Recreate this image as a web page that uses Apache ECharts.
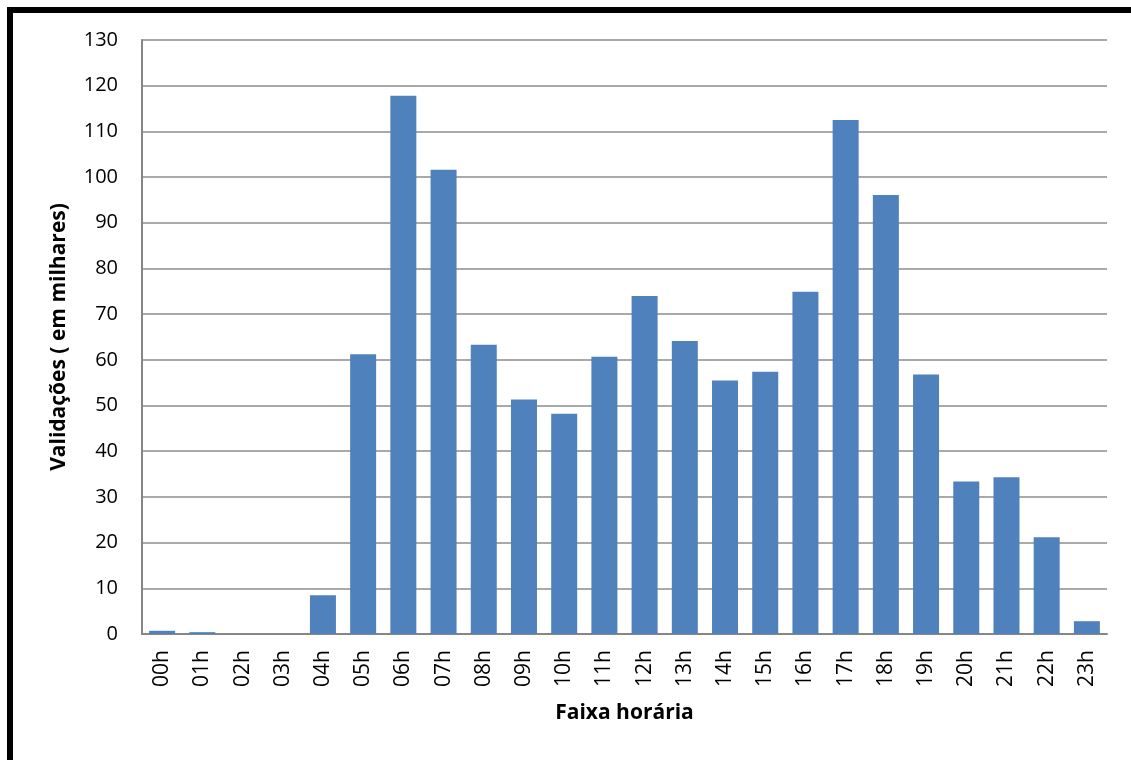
<!DOCTYPE html>
<html>
<head>
<meta charset="utf-8">
<script src="https://cdn.jsdelivr.net/npm/echarts@6/dist/echarts.min.js"></script>
<style>
  html, body { margin: 0; padding: 0; background: #ffffff; overflow: hidden; }
  #frame { position: absolute; left: 7px; top: 7px; width: 1200px; height: 800px;
           border-top: 6px solid #000; border-left: 6px solid #000; box-sizing: border-box; }
  #chart { position: absolute; left: 0; top: 0; width: 1131px; height: 760px; }
</style>
</head>
<body>
<div id="frame"></div>
<div id="chart"></div>
<script>
const categories = ['00h','01h','02h','03h','04h','05h','06h','07h','08h','09h','10h','11h',
                    '12h','13h','14h','15h','16h','17h','18h','19h','20h','21h','22h','23h'];
const validacoes = [0.7, 0.4, 0, 0, 8.5, 61.2, 117.8, 101.6, 63.3, 51.3, 48.2, 60.7,
                    74.0, 64.1, 55.5, 57.4, 74.9, 112.5, 96.1, 56.8, 33.4, 34.3, 21.2, 2.8];
const yAxisTitle = 'Validações ( em milhares)';
const xAxisTitle = 'Faixa horária';

const chart = echarts.init(document.getElementById('chart'), null, { renderer: 'canvas' });
const font = '"Open Sans", "Liberation Sans", sans-serif';
chart.setOption({
  animation: false,
  backgroundColor: 'transparent',
  textStyle: { fontFamily: font },
  grid: { left: 142, right: 24, top: 40, bottom: 126, containLabel: false },
  xAxis: {
    type: 'category',
    data: categories,
    name: xAxisTitle,
    nameLocation: 'middle',
    nameGap: 69,
    nameTextStyle: { fontSize: 21, fontWeight: 'bold', color: '#000', fontFamily: font },
    axisLine: { show: true, lineStyle: { color: '#868686', width: 2 } },
    axisTick: { show: false },
    axisLabel: { rotate: 90, margin: 16, fontSize: 21, color: '#000', fontFamily: font, interval: 0 }
  },
  yAxis: {
    type: 'value',
    min: 0, max: 130, interval: 10,
    name: yAxisTitle,
    nameLocation: 'middle',
    nameGap: 72,
    nameRotate: 90,
    nameTextStyle: { fontSize: 21, fontWeight: 'bold', color: '#000', fontFamily: font },
    axisLine: { show: true, lineStyle: { color: '#868686', width: 2 } },
    axisTick: { show: false },
    axisLabel: { margin: 24, fontSize: 20, color: '#000', fontFamily: font },
    splitLine: { show: true, lineStyle: { color: '#8c8c8c', width: 1.5 } }
  },
  series: [{
    type: 'bar',
    data: validacoes,
    barWidth: 26,
    itemStyle: { color: '#4F81BD' }
  }]
});
</script>
</body>
</html>
